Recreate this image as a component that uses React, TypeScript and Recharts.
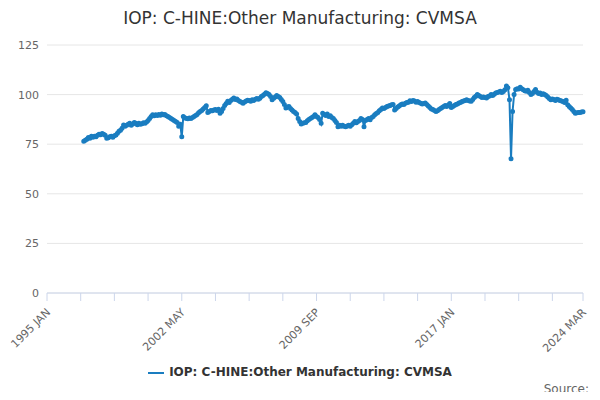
import { LineChart, Line, XAxis, YAxis, CartesianGrid } from "recharts"

// monthly values, Jan 1997 .. Mar 2024
const startIndex = 24 // months after 1995 JAN
const values: number[] = [
  76.5, 77, 77.5, 78.4, 78, 79, 78.5, 79, 78.8, 79.5, 80, 79.8,
  80.4, 80, 79.5, 78, 78.3, 78.8, 79, 78.5, 79.2, 79.6, 80.5, 81.5,
  82, 83, 84.7, 84, 84.5, 85, 85.5, 84.6, 85.2, 86, 85.5, 84.8,
  85.5, 85, 85.3, 85.8, 85.5, 86.2, 87, 88, 89, 89.8, 89.4, 89.9,
  89.5, 90, 89.6, 90.2, 89.8, 90, 89.4, 89, 88.5, 88, 87.5, 87,
  86.5, 86, 84, 85, 78.7, 89, 88.3, 88, 87.8, 88.2, 88, 88.5,
  89, 89.5, 90, 90.8, 91.5, 92, 92.8, 93.5, 94.4, 91, 91.5, 92,
  91.8, 92.3, 92.5, 92, 92.6, 90.6, 91.5, 93, 94.5, 95.5, 96.6, 96,
  97, 97.6, 98.3, 97.5, 97.8, 97, 96.5, 96.2, 95.7, 96.3, 96.8, 97.2,
  97, 96.6, 97.4, 97, 97.6, 98, 97.6, 98.2, 99, 99.6, 100.2, 100.9,
  100.5, 100, 99, 97.4, 98.2, 98.8, 99.5, 99, 98.5, 97.5, 96.5, 95,
  93.2, 93.8, 94, 93, 92.2, 91.5, 91, 90.2, 88, 86.5, 85.2, 85.5,
  85.8, 86, 86.8, 87.5, 88, 88.5, 89, 89.8, 89, 88.5, 87.5, 85.5,
  90.6, 90, 89.5, 90.2, 89, 89.4, 88.5, 88, 87, 86, 83.8, 84.5,
  84, 84.6, 84, 83.8, 84.2, 84.5, 84, 84.8, 85.5, 86.4, 85.8, 86.5,
  87, 88, 87.5, 83.8, 87, 87.5, 88, 87.3, 88.5, 89, 89.8, 90.5,
  91, 91.8, 92.5, 93.2, 93, 93.5, 94, 94.2, 94.5, 94.9, 95, 92.3,
  93, 93.8, 94.2, 94.9, 95.3, 95, 95.6, 96, 96.2, 96.9, 96.5, 97,
  96.8, 96.2, 96.5, 96, 95.6, 95.2, 95.5, 95.8, 95, 94.2, 93.5, 92.8,
  92.5, 92, 91.5, 91.8, 92.5, 93, 93.5, 94, 94.5, 94, 94.8, 95.5,
  93.5, 94, 94.5, 95, 95.3, 95.8, 96, 96.5, 96.8, 97, 97.4, 97,
  96.8, 96.6, 97.5, 98.5, 99.2, 100, 99.5, 99, 98.6, 98.8, 98.5, 98.3,
  99, 99.3, 100, 99.6, 100.2, 100.8, 101, 101.3, 101.7, 101, 101.5, 102.5,
  104.3, 103.5, 97.4, 67.7, 91.5, 100, 102.6, 103, 102.8, 103.7, 103, 102.5,
  102, 101.7, 102.2, 101, 100, 100.6, 101.5, 102.6, 101.2, 100.5, 100.8, 100,
  100.4, 100, 99.5, 98.8, 98, 97.4, 97.8, 97.5, 97, 97.6, 97.4, 97,
  96.8, 96.5, 96, 97.2, 94.9, 94, 93.2, 92.5, 91.5, 90.6, 90.8, 91,
  91, 91.2, 91.3,
]
const xTicks = [0, 22, 44, 66, 88, 110, 132, 154, 176, 198, 220, 242, 264, 286, 308, 330, 350]
const xLabels: Record<number, string> = { 0: "1995 JAN", 88: "2002 MAY", 176: "2009 SEP", 264: "2017 JAN", 350: "2024 MAR" }
const yTicks = [0, 25, 50, 75, 100, 125]

const seriesName = "IOP: C-HINE:Other Manufacturing: CVMSA"
const color = "#1a7dc0"

const data = values.map((v, i) => ({ t: startIndex + i, value: v }))

function XTick(props: any) {
  const { x, y, payload } = props
  const label = xLabels[payload.value]
  if (!label) return null
  return (
    <text x={x + 4} y={y + 10} transform={`rotate(-45 ${x + 4} ${y + 10})`} textAnchor="end" fontSize={11} fill="#666">
      {label}
    </text>
  )
}

export default function App() {
  return (
    <div style={{ position: "relative", margin: -8, width: 600, height: 400, fontFamily: "DejaVu Sans, sans-serif", background: "#fff" }}>
      <div style={{ position: "absolute", top: 8, width: 600, textAlign: "center", fontSize: 17, color: "#333" }}>
        IOP: C-HINE:Other Manufacturing: CVMSA
      </div>
      <LineChart width={600} height={400} data={data} margin={{ top: 45, right: 17, left: 7, bottom: 47 }}>
        <CartesianGrid vertical={false} stroke="#e6e6e6" />
        <XAxis
          dataKey="t"
          type="number"
          domain={[0, 350]}
          ticks={xTicks}
          tick={<XTick />}
          tickLine={{ stroke: "#ccd6eb" }}
          axisLine={{ stroke: "#ccd6eb" }}
          tickSize={8}
          height={60}
          interval={0}
        />
        <YAxis
          domain={[0, 125]}
          ticks={yTicks}
          width={40}
          axisLine={false}
          tickLine={false}
          tick={{ fontSize: 11, fill: "#666" }}
        />
        <Line
          dataKey="value"
          stroke={color}
          strokeWidth={2}
          dot={{ r: 1.5, fill: color, stroke: color }}
          isAnimationActive={false}
        />
      </LineChart>
      <div style={{ position: "absolute", top: 365, width: 600, textAlign: "center", fontSize: 12, fontWeight: "bold", color: "#333" }}>
        <span style={{ display: "inline-block", width: 16, height: 2, background: color, verticalAlign: "middle", marginRight: 5 }} />
        {seriesName}
      </div>
      <div style={{ position: "absolute", top: 382, right: 11, fontSize: 12, color: "#666" }}>Source:</div>
    </div>
  )
}
